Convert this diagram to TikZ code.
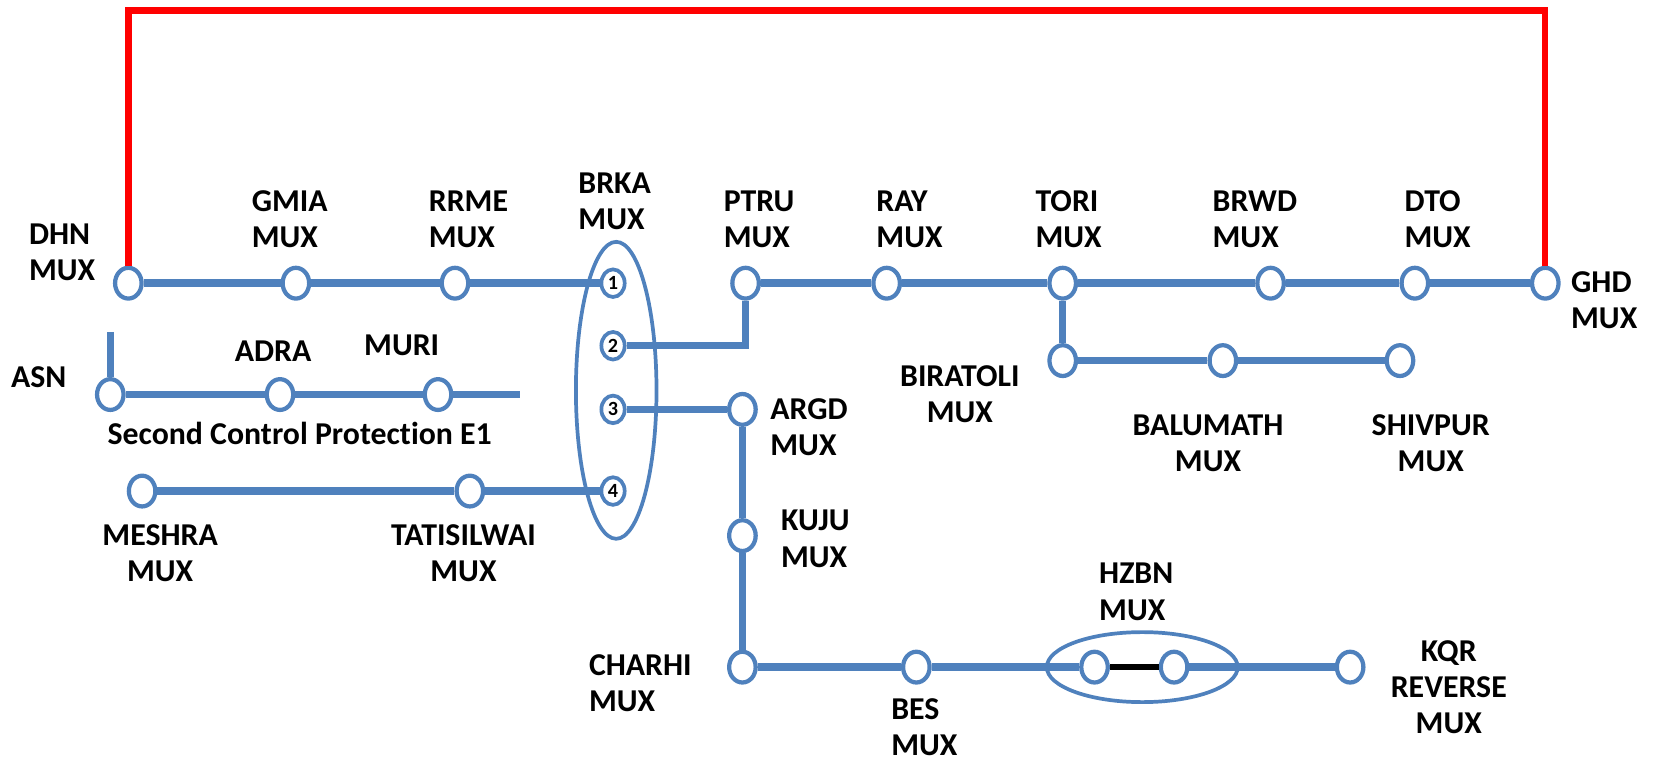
\documentclass[tikz,border=0pt]{standalone}
\usepackage{fontspec}
\setmainfont{Carlito}[Ligatures=NoCommon]
\usetikzlibrary{shapes.geometric}
\definecolor{lineblue}{HTML}{4F81BD}
\tikzset{
  stn/.style={ellipse, draw=lineblue, fill=white, line width=2pt, minimum width=12.5pt, minimum height=14.5pt, inner sep=0pt},
  port/.style={ellipse, draw=lineblue, fill=white, line width=1.75pt, minimum width=11pt, minimum height=13pt, inner sep=0pt, font=\bfseries\fontsize{9.5}{10}\selectfont},
  link/.style={lineblue, line width=3.5pt},
  lbl/.style={font=\bfseries\fontsize{15}{17}\selectfont, inner sep=0pt, anchor=west, align=left},
  clbl/.style={font=\bfseries\fontsize{15}{17}\selectfont, inner sep=0pt, align=center},
}
\begin{document}
\begin{tikzpicture}[x=0.5pt,y=-0.5pt]
\useasboundingbox (0,0) rectangle (1568,719);

\node[ellipse, draw=lineblue, line width=1.75pt, minimum width=38pt, minimum height=140pt] (brka) at (581,368) {};
\node[ellipse, draw=lineblue, line width=1.75pt, minimum width=90pt, minimum height=33pt] (hzbn) at (1077,629) {};

\node[stn] (dhn) at (121,267) {};
\node[stn] (gmia) at (279,267) {};
\node[stn] (rrme) at (429,267) {};
\node[port] (p1) at (578,267) {1};
\node[port] (p2) at (578,326) {2};
\node[port] (p3) at (578,386) {3};
\node[port] (p4) at (578,463) {4};
\node[stn] (ptru) at (703,267) {};
\node[stn] (ray) at (836,267) {};
\node[stn] (tori) at (1002,267) {};
\node[stn] (brwd) at (1198,267) {};
\node[stn] (dto) at (1334,267) {};
\node[stn] (ghd) at (1457,267) {};
\node[stn] (bira) at (1002,340) {};
\node[stn] (balu) at (1153,340) {};
\node[stn] (shiv) at (1320,340) {};
\node[stn] (asn) at (104,372) {};
\node[stn] (adra) at (264,372) {};
\node[stn] (muri) at (413,372) {};
\node[stn] (meshra) at (134,463) {};
\node[stn] (tati) at (443,463) {};
\node[stn] (argd) at (700,386) {};
\node[stn] (kuju) at (700,505) {};
\node[stn] (charhi) at (700,629) {};
\node[stn] (bes) at (864,629) {};
\node[stn] (hzl) at (1032,629) {};
\node[stn] (hzr) at (1107,629) {};
\node[stn] (kqr) at (1273,629) {};
\coordinate (asntop) at (104,313);
\coordinate (muriend) at (490,372);
\coordinate (redtop) at (0,10);

\draw[red, line width=3pt] (dhn.north) -- (dhn.north |- redtop) -| (ghd.north);
\draw[link] (dhn) -- (gmia) -- (rrme) -- (p1);
\draw[link] (ptru) -- (ray) -- (tori) -- (brwd) -- (dto) -- (ghd);
\draw[link] (p2) -| (ptru);
\draw[link] (tori) -- (bira) -- (balu) -- (shiv);
\draw[link] (asntop) -- (asn);
\draw[link] (asn) -- (adra) -- (muri) -- (muriend);
\draw[link] (meshra) -- (tati) -- (p4);
\draw[link] (p3) -- (argd) -- (kuju) -- (charhi) -- (bes) -- (hzl);
\draw[link] (hzr) -- (kqr);
\draw[black, line width=2.5pt] (hzl) -- (hzr);

\node[lbl] (ldhn) at (27,238) {DHN\\MUX};
\node[lbl] (lgmia) at (237,207) {GMIA\\MUX};
\node[lbl] (lrrme) at (404,207) {RRME\\MUX};
\node[lbl] (lbrka) at (545,190) {BRKA\\MUX};
\node[lbl] (lptru) at (682,207) {PTRU\\MUX};
\node[lbl] (lray) at (826,207) {RAY\\MUX};
\node[lbl] (ltori) at (976,207) {TORI\\MUX};
\node[lbl] (lbrwd) at (1143,207) {BRWD\\MUX};
\node[lbl] (ldto) at (1324,207) {DTO\\MUX};
\node[lbl] (lghd) at (1481,283) {GHD\\MUX};
\node[lbl] (lasn) at (10,356) {ASN};
\node[lbl] (ladra) at (221,331) {ADRA};
\node[lbl] (lmuri) at (343,326) {MURI};
\node[lbl] (lsec) at (101,409) {Second Control Protection E1};
\node[clbl] (lmeshra) at (151,522) {MESHRA\\MUX};
\node[clbl] (ltati) at (437,522) {TATISILWAI\\MUX};
\node[clbl] (lbira) at (905,372) {BIRATOLI\\MUX};
\node[clbl] (lbalu) at (1139,418) {BALUMATH\\MUX};
\node[clbl] (lshiv) at (1349,418) {SHIVPUR\\MUX};
\node[lbl] (largd) at (726,403) {ARGD\\MUX};
\node[lbl] (lkuju) at (736,508) {KUJU\\MUX};
\node[lbl] (lcharhi) at (555,644) {CHARHI\\MUX};
\node[lbl] (lbes) at (840,686) {BES\\MUX};
\node[lbl] (lhzbn) at (1036,558) {HZBN\\MUX};
\node[clbl] (lkqr) at (1366,648) {KQR\\REVERSE\\MUX};
\end{tikzpicture}
\end{document}
